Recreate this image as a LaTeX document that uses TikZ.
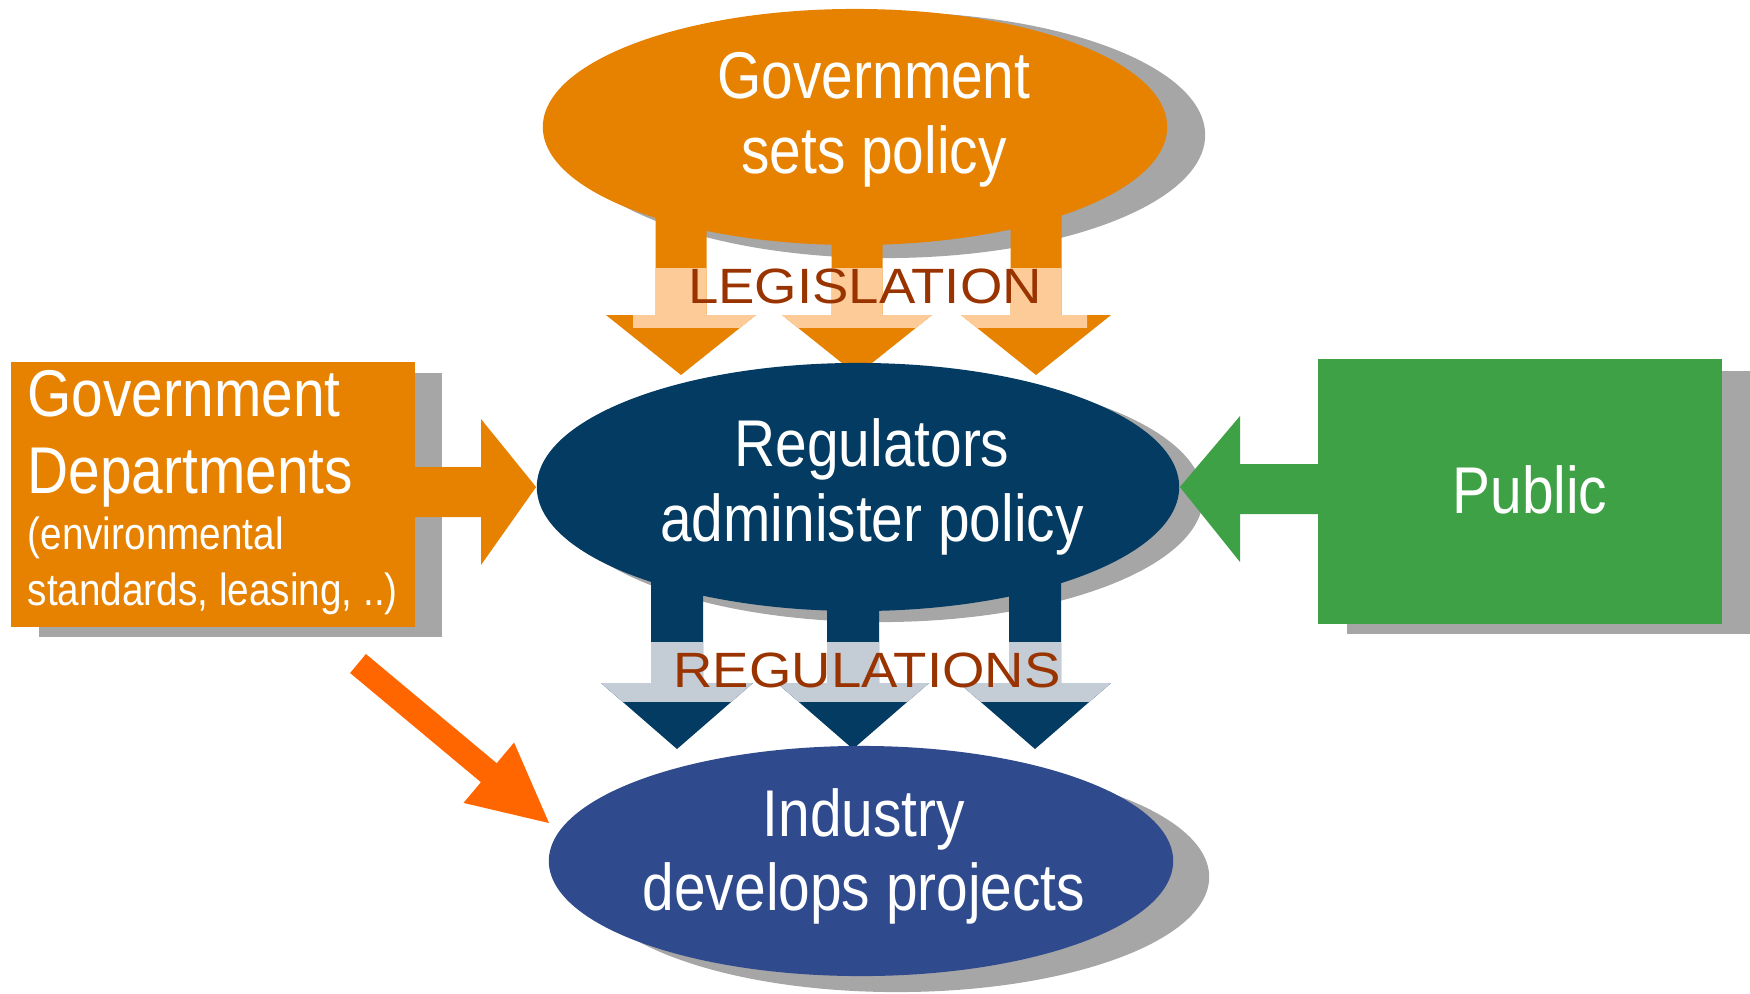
\documentclass[tikz,border=0pt]{standalone}
\usepackage{fontspec}
\setmainfont{Liberation Sans}
\newfontfamily\narrowsans[FakeStretch=0.86]{Liberation Sans}
\newfontfamily\widesans[FakeStretch=1.10]{Liberation Sans}
\usetikzlibrary{shapes.geometric}

\definecolor{govorange}{HTML}{E68200}
\definecolor{govlight}{HTML}{FDCB98}
\definecolor{regnavy}{HTML}{033B62}
\definecolor{reglight}{HTML}{C4CCD5}
\definecolor{indblue}{HTML}{2F4A8D}
\definecolor{pubgreen}{HTML}{3FA146}
\definecolor{shadowgray}{HTML}{A6A6A6}
\definecolor{linkorange}{HTML}{FF6600}
\definecolor{labelbrown}{HTML}{993300}

\pgfdeclarelayer{shadowlayer}
\pgfdeclarelayer{arrowlayer}
\pgfsetlayers{shadowlayer,arrowlayer,main}

% block arrow pointing down:
% colour, centre x, stem half width, stem top, head top, head half width, tip y
\newcommand\downblock[7]{%
  \fill[#1] (#2-#3,#4) -- (#2+#3,#4) -- (#2+#3,#5) -- (#2+#6,#5)
    -- (#2,#7) -- (#2-#6,#5) -- (#2-#3,#5) -- cycle;}
% the three legislation and regulation arrows in a given colour
\newcommand\legisarrows[1]{%
  \downblock{#1}{681}{25.5}{215}{315}{75}{375}
  \downblock{#1}{857}{25.5}{215}{315}{75}{375}
  \downblock{#1}{1036}{25.5}{215}{315}{75}{375}}
\newcommand\regularrows[1]{%
  \downblock{#1}{677}{26}{560}{683}{76}{749}
  \downblock{#1}{853}{26}{560}{683}{76}{749}
  \downblock{#1}{1035}{26}{560}{683}{76}{749}}

\begin{document}
\begin{tikzpicture}[x=0.01cm,y=-0.01cm,
  blob/.style={ellipse, draw=none, inner sep=0pt},
  panel/.style={rectangle, draw=none, inner sep=0pt,
    minimum width=4.04cm, minimum height=2.65cm},
  bigtext/.style={text=white, inner sep=0pt,
    font=\narrowsans\fontsize{18.8pt}{21.3pt}\selectfont},
  smalltext/.style={text=white, inner sep=0pt,
    font=\narrowsans\fontsize{12.8pt}{15pt}\selectfont},
  bandtext/.style={text=labelbrown, inner sep=0pt,
    font=\widesans\fontsize{14.1pt}{16pt}\selectfont},
]
\useasboundingbox (0,0) rectangle (1750,993);

% main shapes
\node[blob, fill=govorange, minimum width=6.24cm, minimum height=2.36cm] (gov) at (855,127) {};
\node[blob, fill=regnavy, minimum width=6.42cm, minimum height=2.48cm] (reg) at (858,487) {};
\node[blob, fill=indblue, minimum width=6.24cm, minimum height=2.30cm] (ind) at (861,861) {};
\node[panel, fill=govorange] (dept) at (213,494.5) {};
\node[panel, fill=pubgreen] (pub) at (1520,491.5) {};

% drop shadows
\begin{pgfonlayer}{shadowlayer}
  \fill[shadowgray] (885,135) ellipse [x radius=3.20cm, y radius=1.23cm];
  \fill[shadowgray] (880,497) ellipse [x radius=3.23cm, y radius=1.25cm];
  \fill[shadowgray] (897,877) ellipse [x radius=3.12cm, y radius=1.15cm];
  \fill[shadowgray] (39,373) rectangle (442,637);
  \fill[shadowgray] (1347,371) rectangle (1751,634);
\end{pgfonlayer}

% block arrows
\begin{pgfonlayer}{arrowlayer}
  % legislation, with a pale strip behind the label
  \legisarrows{govorange}
  \begin{scope}
    \clip (633,268) rectangle (1087,327);
    \legisarrows{govlight}
  \end{scope}
  % regulations, with a pale strip behind the label
  \regularrows{regnavy}
  \begin{scope}
    \clip (590,642) rectangle (1120,701);
    \regularrows{reglight}
  \end{scope}
  % departments -> regulators
  \fill[govorange] (400,467) -- (481,467) -- (481,419) -- (reg.west)
    -- (481,565) -- (481,517) -- (400,517) -- cycle;
  % public -> regulators
  \fill[pubgreen] (1330,464) -- (1240,464) -- (1240,416) -- (reg.east)
    -- (1240,562) -- (1240,514) -- (1330,514) -- cycle;
  % departments -> industry
  \coordinate (linktip) at (549,823);
  \fill[linkorange] (350.1,673.0) -- (365.9,654.0) -- (496.7,763.2)
    -- (514.1,742.5) -- (linktip) -- (463.5,802.9) -- (480.9,782.2) -- cycle;
\end{pgfonlayer}

% strip labels
\node[bandtext, anchor=base] (legis) at (865,303) {LEGISLATION};
\node[bandtext, anchor=base] (regs) at (867,687) {REGULATIONS};

% texts
\node[bigtext, anchor=base] (govA) at (874,98) {Government};
\node[bigtext, anchor=base] (govB) at (874,173) {sets policy};
\node[bigtext, anchor=base] (regA) at (872,466) {Regulators};
\node[bigtext, anchor=base] (regB) at (872,541) {administer policy};
\node[bigtext, anchor=base] (indA) at (864,836) {Industry};
\node[bigtext, anchor=base] (indB) at (864,910) {develops projects};
\node[bigtext, anchor=base] (pubT) at (1530,513) {Public};
\node[bigtext, anchor=base west] (deptA) at (27,416) {Government};
\node[bigtext, anchor=base west] (deptB) at (27,493) {Departments};
\node[smalltext, anchor=base west] (deptC) at (27,549) {(environmental};
\node[smalltext, anchor=base west] (deptD) at (27,605) {standards, leasing, ..)};
\end{tikzpicture}
\end{document}
